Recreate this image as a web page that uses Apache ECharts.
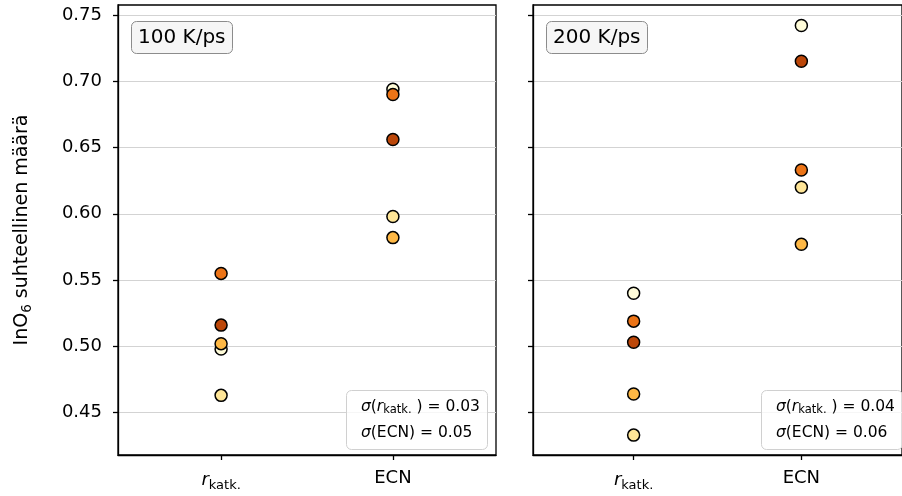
<!DOCTYPE html>
<html>
<head>
<meta charset="utf-8">
<script src="https://cdn.jsdelivr.net/npm/echarts@6/dist/echarts.min.js"></script>
<style>
  html, body { margin: 0; padding: 0; background: #fff; }
  #chart { width: 902px; height: 496px; }
</style>
</head>
<body>
<div id="chart"></div>
<script>
// Categories on the x axis (0 = r_katk., 1 = ECN)
const categories = ['r_katk.', 'ECN'];
const categoryPos = [0, 1];

// Panel labels (cooling rate)
const rateLabels = ['100 K/ps', '200 K/ps'];

// Relative InO6 amount for five runs: values at r_katk. and ECN
const r100 = [0.498, 0.463, 0.502, 0.555, 0.516];
const ecn100 = [0.694, 0.598, 0.582, 0.690, 0.656];
const r200 = [0.540, 0.433, 0.464, 0.519, 0.503];
const ecn200 = [0.742, 0.620, 0.577, 0.633, 0.715];

// Standard deviations printed in each panel
const sigmaR = ['0.03', '0.04'];
const sigmaEcn = ['0.05', '0.06'];

// y ticks
const yTicks = [0.45, 0.50, 0.55, 0.60, 0.65, 0.70, 0.75];

// One colour per run (YlOrBr ramp)
const runColors = ['#fffcd9', '#fee597', '#feb845', '#ec7417', '#bc4709'];

const FONT = 'DejaVu Sans';
const panels = [
  { r: r100, ecn: ecn100 },
  { r: r200, ecn: ecn200 }
];

const grids = [
  { left: 118, top: 5, width: 378, height: 450 },
  { left: 533, top: 5, width: 375, height: 450 }
];

function makeXAxis(gi) {
  return {
    type: 'value', gridIndex: gi, min: -0.6, max: 1.6,
    axisLine: { show: true, onZero: false, lineStyle: { color: '#000', width: 1.3 } },
    axisTick: { show: true, inside: false, length: 5, customValues: categoryPos,
                lineStyle: { color: '#000', width: 1.3 } },
    axisLabel: {
      show: true, customValues: categoryPos, margin: 14,
      fontFamily: FONT, fontSize: 18, color: '#000',
      formatter: function (v) {
        const idx = Math.round(v);
        if (idx === 0) return '{i|r}{sub|katk.}';
        return '{n|' + categories[idx] + '}';
      },
      rich: {
        i: { fontFamily: FONT, fontSize: 18, fontStyle: 'italic', color: '#000' },
        sub: { fontFamily: FONT, fontSize: 13, color: '#000', padding: [10, 0, 0, 0] },
        n: { fontFamily: FONT, fontSize: 18, color: '#000' }
      }
    },
    splitLine: { show: false }
  };
}

function makeYAxis(gi, showLabels) {
  const ax = {
    type: 'value', gridIndex: gi, min: 0.418, max: 0.7575,
    axisLine: { show: true, onZero: false, lineStyle: { color: '#000', width: 1.3 } },
    axisTick: { show: true, inside: false, length: 5, customValues: yTicks,
                lineStyle: { color: '#000', width: 1.3 } },
    axisLabel: {
      show: showLabels, customValues: yTicks, margin: 16,
      fontFamily: FONT, fontSize: 18, color: '#000',
      formatter: function (v) { return v.toFixed(2); }
    },
    splitLine: { show: true, lineStyle: { color: '#d3d3d3', width: 1.2 } }
  };
  if (showLabels) {
    ax.name = '{n|InO}{s|6}{n| suhteellinen määrä}';
    ax.nameLocation = 'middle';
    ax.nameGap = 84;
    ax.nameRotate = 90;
    ax.nameTextStyle = {
      fontFamily: FONT, fontSize: 19, color: '#000',
      rich: {
        n: { fontFamily: FONT, fontSize: 19, color: '#000' },
        s: { fontFamily: FONT, fontSize: 13.5, color: '#000', padding: [10, 0, 0, 0] }
      }
    };
  }
  return ax;
}

const series = [];
panels.forEach(function (p, pi) {
  runColors.forEach(function (c, ri) {
    series.push({
      type: 'scatter', xAxisIndex: pi, yAxisIndex: pi,
      symbol: 'circle', symbolSize: 12,
      itemStyle: { color: c, borderColor: '#000', borderWidth: 1.5, opacity: 1 },
      emphasis: { disabled: true },
      data: [[categoryPos[0], p.r[ri]], [categoryPos[1], p.ecn[ri]]],
      z: 3 + ri
    });
  });
});

const boxRich = {
  g: { fontFamily: FONT, fontSize: 15.5, fontStyle: 'italic', color: '#000' },
  t: { fontFamily: FONT, fontSize: 15.5, color: '#000' },
  sub: { fontFamily: FONT, fontSize: 11.5, color: '#000', padding: [7, 0, 0, 0] }
};

const titles = [];
rateLabels.forEach(function (lab, pi) {
  const g = grids[pi];
  titles.push({
    text: lab, left: g.left + 13, top: 21,
    padding: [5, 7, 4, 7],
    backgroundColor: '#f6f6f6', borderColor: '#8c8c8c', borderWidth: 1, borderRadius: 5,
    textStyle: { fontFamily: FONT, fontSize: 20, fontWeight: 'normal', color: '#000', lineHeight: 24 }
  });
  titles.push({
    text: '{g|σ}{t|(}{g|r}{sub|katk.}{t| ) = ' + sigmaR[pi] + '}\n{g|σ}{t|(ECN) = ' + sigmaEcn[pi] + '}',
    left: g.left + 228, top: 390,
    padding: [4, 8, 4, 15],
    backgroundColor: 'rgba(255,255,255,0.8)', borderColor: '#d0d0d0', borderWidth: 1, borderRadius: 5,
    textStyle: { fontFamily: FONT, fontSize: 15.5, fontWeight: 'normal', color: '#000', lineHeight: 26, rich: boxRich }
  });
});

const chart = echarts.init(document.getElementById('chart'), null, { renderer: 'canvas' });
chart.setOption({
  backgroundColor: '#fff',
  animation: false,
  title: titles,
  grid: grids.map(function (g) {
    return Object.assign({ show: true, borderColor: '#000', borderWidth: 1.3, backgroundColor: 'transparent', containLabel: false }, g);
  }),
  xAxis: [makeXAxis(0), makeXAxis(1)],
  yAxis: [makeYAxis(0, true), makeYAxis(1, false)],
  series: series
});
</script>
</body>
</html>
